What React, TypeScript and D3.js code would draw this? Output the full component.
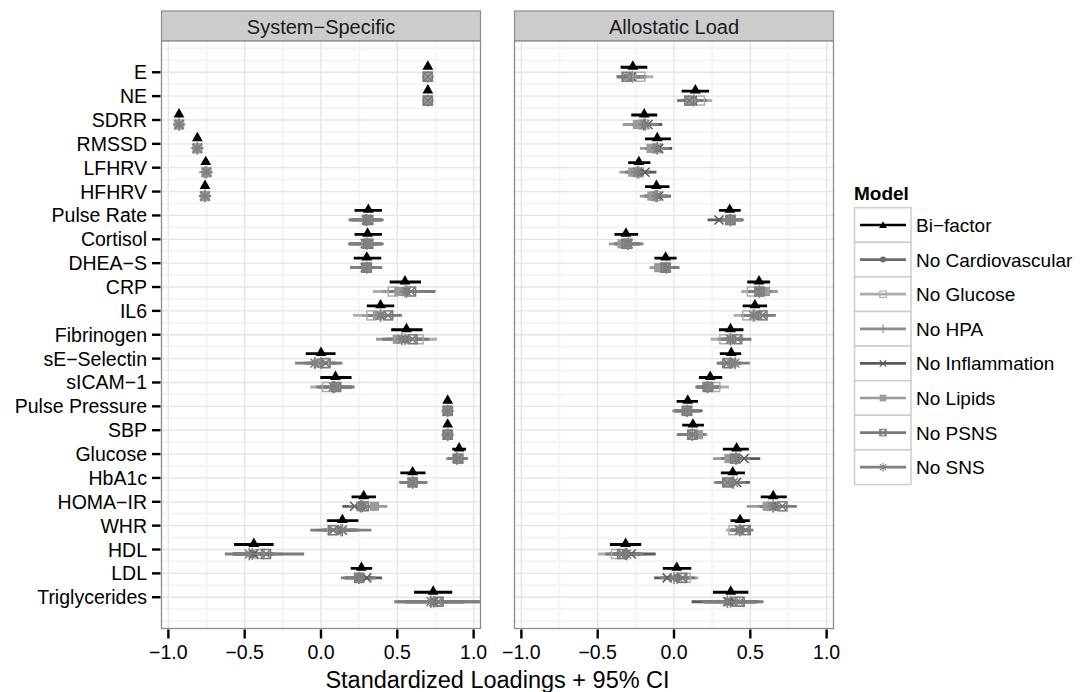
import React from "react";
import * as d3 from "d3";

type Est = [number, number, number] | null;

const categories = ["E", "NE", "SDRR", "RMSSD", "LFHRV", "HFHRV", "Pulse Rate", "Cortisol", "DHEA\u2212S", "CRP", "IL6", "Fibrinogen", "sE\u2212Selectin", "sICAM\u22121", "Pulse Pressure", "SBP", "Glucose", "HbA1c", "HOMA\u2212IR", "WHR", "HDL", "LDL", "Triglycerides"];
const models = ["Bi\u2212factor", "No Cardiovascular", "No Glucose", "No HPA", "No Inflammation", "No Lipids", "No PSNS", "No SNS"];
const modelColors = ["#000000", "#6b6b6b", "#adadad", "#8c8c8c", "#595959", "#9a9a9a", "#7a7a7a", "#7f7f7f"];
const modelShapes = ["triangle", "circle", "openSquare", "plus", "cross", "filledSquare", "squareX", "asterisk"];
const panelTitles = ["System\u2212Specific", "Allostatic Load"];
const xTicks = [-1, -0.5, 0, 0.5, 1];
const xMinor = [-0.75, -0.25, 0.25, 0.75];
const xTitle = "Standardized Loadings + 95% CI";
const legendTitle = "Model";

// System-Specific panel: [estimate, lower, upper]
const ssBifactor: Est[] = [
  [0.70, 0.68, 0.72], [0.70, 0.68, 0.72], [-0.93, -0.95, -0.91], [-0.81, -0.83, -0.79], [-0.755, -0.775, -0.735], [-0.76, -0.78, -0.74],
  [0.31, 0.22, 0.40], [0.305, 0.22, 0.40], [0.30, 0.215, 0.395], [0.55, 0.45, 0.655], [0.39, 0.30, 0.48], [0.56, 0.46, 0.665],
  [0.0, -0.10, 0.095], [0.095, -0.005, 0.20], [0.83, 0.81, 0.85], [0.83, 0.81, 0.85], [0.905, 0.86, 0.95], [0.60, 0.52, 0.685],
  [0.28, 0.20, 0.36], [0.14, 0.04, 0.245], [-0.44, -0.57, -0.31], [0.265, 0.195, 0.335], [0.735, 0.61, 0.86]];
const ssNoCardio: Est[] = [
  [0.70, 0.68, 0.72], [0.70, 0.68, 0.72], [-0.93, -0.95, -0.91], [-0.81, -0.83, -0.79], [-0.75, -0.77, -0.73], [-0.76, -0.78, -0.74],
  null, [0.30, 0.19, 0.40], [0.30, 0.20, 0.40], [0.55, 0.44, 0.66], [0.39, 0.29, 0.48], [0.55, 0.43, 0.66],
  [0.0, -0.10, 0.10], [0.09, -0.01, 0.20], null, null, [0.89, 0.84, 0.95], [0.60, 0.52, 0.69],
  [0.27, 0.19, 0.35], [0.12, 0.01, 0.23], [-0.45, -0.58, -0.32], [0.25, 0.16, 0.34], [0.74, 0.55, 0.93]];
const ssNoGlucose: Est[] = [
  [0.70, 0.68, 0.72], [0.70, 0.68, 0.72], [-0.93, -0.95, -0.91], [-0.81, -0.83, -0.79], [-0.75, -0.77, -0.73], [-0.76, -0.78, -0.74],
  [0.30, 0.20, 0.40], [0.30, 0.20, 0.40], [0.30, 0.20, 0.40], [0.47, 0.34, 0.60], [0.33, 0.21, 0.44], [0.64, 0.53, 0.76],
  [0.02, -0.08, 0.12], [0.04, -0.07, 0.15], [0.83, 0.81, 0.85], [0.83, 0.81, 0.85], null, null,
  null, [0.075, -0.03, 0.18], [-0.40, -0.55, -0.25], [0.25, 0.16, 0.34], [0.75, 0.58, 0.95]];
const ssNoHPA: Est[] = [
  [0.70, 0.68, 0.72], [0.70, 0.68, 0.72], [-0.93, -0.95, -0.91], [-0.81, -0.83, -0.79], [-0.76, -0.78, -0.74], [-0.76, -0.78, -0.74],
  [0.29, 0.19, 0.39], null, null, [0.55, 0.44, 0.66], [0.39, 0.29, 0.48], [0.55, 0.43, 0.66],
  [0.0, -0.10, 0.10], [0.09, -0.01, 0.20], [0.83, 0.81, 0.85], [0.83, 0.81, 0.85], [0.89, 0.84, 0.95], [0.60, 0.52, 0.69],
  [0.27, 0.19, 0.35], [0.13, 0.02, 0.24], [-0.45, -0.58, -0.32], [0.25, 0.16, 0.34], [0.74, 0.55, 0.93]];
const ssNoInflam: Est[] = [
  [0.70, 0.68, 0.72], [0.70, 0.68, 0.72], [-0.93, -0.95, -0.91], [-0.81, -0.83, -0.79], [-0.75, -0.77, -0.73], [-0.76, -0.78, -0.74],
  [0.30, 0.20, 0.40], [0.29, 0.18, 0.39], [0.29, 0.19, 0.39], null, null, null,
  null, null, [0.83, 0.81, 0.85], [0.83, 0.81, 0.85], [0.90, 0.85, 0.96], [0.60, 0.52, 0.69],
  [0.22, 0.14, 0.30], [0.14, 0.03, 0.25], [-0.44, -0.57, -0.31], [0.30, 0.20, 0.40], [0.74, 0.55, 0.94]];
const ssNoLipids: Est[] = [
  [0.70, 0.68, 0.72], [0.70, 0.68, 0.72], [-0.93, -0.95, -0.91], [-0.81, -0.83, -0.79], [-0.75, -0.77, -0.73], [-0.76, -0.78, -0.74],
  [0.30, 0.20, 0.40], [0.30, 0.20, 0.40], [0.30, 0.20, 0.40], [0.51, 0.40, 0.62], [0.37, 0.27, 0.47], [0.50, 0.36, 0.63],
  [-0.02, -0.12, 0.08], [0.10, 0.00, 0.21], [0.83, 0.81, 0.85], [0.83, 0.81, 0.85], [0.89, 0.82, 0.96], [0.60, 0.51, 0.70],
  [0.35, 0.27, 0.435], null, null, null, null];
const ssNoPSNS: Est[] = [
  [0.70, 0.68, 0.72], [0.70, 0.68, 0.72], null, null, null, null,
  [0.31, 0.21, 0.41], [0.31, 0.21, 0.41], [0.30, 0.20, 0.40], [0.59, 0.44, 0.75], [0.44, 0.34, 0.53], [0.60, 0.48, 0.71],
  [0.03, -0.07, 0.14], [0.10, 0.00, 0.22], [0.83, 0.81, 0.85], [0.83, 0.81, 0.85], [0.90, 0.84, 0.96], [0.60, 0.52, 0.69],
  [0.28, 0.20, 0.36], [0.08, -0.07, 0.22], [-0.36, -0.55, -0.11], [0.25, 0.15, 0.35], [0.77, 0.50, 1.10]];
const ssNoSNS: Est[] = [
  null, null, [-0.93, -0.95, -0.91], [-0.81, -0.83, -0.79], [-0.75, -0.77, -0.73], [-0.76, -0.78, -0.74],
  [0.30, 0.18, 0.40], [0.30, 0.19, 0.40], [0.30, 0.19, 0.40], [0.56, 0.44, 0.68], [0.39, 0.30, 0.49], [0.53, 0.40, 0.65],
  [-0.04, -0.17, 0.07], [0.08, -0.03, 0.19], [0.83, 0.81, 0.85], [0.83, 0.81, 0.85], [0.89, 0.83, 0.95], [0.60, 0.52, 0.69],
  [0.26, 0.18, 0.34], [0.14, 0.00, 0.33], [-0.47, -0.63, -0.30], [0.25, 0.13, 0.36], [0.72, 0.48, 1.08]];

// Allostatic Load panel
const alBifactor: Est[] = [
  [-0.27, -0.35, -0.175], [0.14, 0.05, 0.23], [-0.195, -0.28, -0.11], [-0.11, -0.19, -0.02], [-0.23, -0.30, -0.155], [-0.115, -0.19, -0.03],
  [0.365, 0.295, 0.437], [-0.315, -0.39, -0.235], [-0.055, -0.128, 0.017], [0.557, 0.48, 0.63], [0.53, 0.45, 0.61], [0.37, 0.295, 0.455],
  [0.375, 0.30, 0.44], [0.237, 0.163, 0.316], [0.09, 0.017, 0.157], [0.124, 0.054, 0.196], [0.41, 0.32, 0.49], [0.385, 0.307, 0.465],
  [0.65, 0.568, 0.739], [0.433, 0.37, 0.497], [-0.317, -0.42, -0.215], [0.018, -0.073, 0.113], [0.372, 0.255, 0.487]];
const alNoCardio: Est[] = [
  [-0.27, -0.35, -0.18], [0.13, 0.04, 0.22], [-0.20, -0.28, -0.11], [-0.11, -0.19, -0.03], [-0.23, -0.31, -0.15], [-0.12, -0.20, -0.04],
  null, [-0.31, -0.39, -0.23], [-0.06, -0.13, 0.02], [0.56, 0.48, 0.63], [0.53, 0.45, 0.61], [0.37, 0.29, 0.45],
  [0.37, 0.30, 0.44], [0.22, 0.15, 0.30], null, null, [0.41, 0.32, 0.50], [0.38, 0.30, 0.46],
  [0.65, 0.57, 0.74], [0.43, 0.37, 0.50], [-0.32, -0.42, -0.22], [0.02, -0.07, 0.11], [0.37, 0.20, 0.53]];
const alNoGlucose: Est[] = [
  [-0.22, -0.30, -0.136], [0.17, 0.08, 0.25], [-0.20, -0.28, -0.11], [-0.11, -0.19, -0.03], [-0.23, -0.31, -0.15], [-0.12, -0.20, -0.04],
  [0.37, 0.29, 0.45], [-0.31, -0.39, -0.23], [-0.06, -0.13, 0.02], [0.51, 0.44, 0.59], [0.48, 0.39, 0.56], [0.33, 0.24, 0.41],
  [0.35, 0.28, 0.42], [0.27, 0.19, 0.36], [0.085, 0.0, 0.17], [0.12, 0.04, 0.20], null, null,
  null, [0.39, 0.34, 0.45], [-0.38, -0.497, -0.27], [0.076, -0.01, 0.16], [0.40, 0.24, 0.56]];
const alNoHPA: Est[] = [
  [-0.27, -0.35, -0.18], [0.13, 0.04, 0.22], [-0.20, -0.28, -0.11], [-0.11, -0.19, -0.03], [-0.23, -0.31, -0.15], [-0.12, -0.20, -0.04],
  [0.37, 0.29, 0.45], null, null, [0.56, 0.48, 0.63], [0.53, 0.45, 0.61], [0.37, 0.29, 0.45],
  [0.37, 0.30, 0.44], [0.22, 0.15, 0.30], [0.085, 0.0, 0.17], [0.12, 0.04, 0.20], [0.41, 0.32, 0.50], [0.38, 0.30, 0.46],
  [0.65, 0.57, 0.74], [0.43, 0.37, 0.50], [-0.32, -0.42, -0.22], [0.02, -0.07, 0.11], [0.37, 0.20, 0.53]];
const alNoInflam: Est[] = [
  [-0.28, -0.36, -0.19], [0.12, 0.03, 0.21], [-0.17, -0.25, -0.077], [-0.10, -0.18, -0.012], [-0.19, -0.27, -0.115], [-0.10, -0.18, -0.02],
  [0.295, 0.22, 0.37], [-0.30, -0.38, -0.22], [-0.05, -0.12, 0.03], null, null, null,
  null, null, [0.09, 0.01, 0.186], [0.12, 0.03, 0.21], [0.46, 0.36, 0.565], [0.41, 0.33, 0.497],
  [0.64, 0.56, 0.73], [0.43, 0.37, 0.50], [-0.28, -0.39, -0.12], [-0.045, -0.13, 0.04], [0.36, 0.115, 0.55]];
const alNoLipids: Est[] = [
  [-0.29, -0.37, -0.20], [0.11, 0.02, 0.20], [-0.24, -0.336, -0.15], [-0.15, -0.224, -0.07], [-0.27, -0.357, -0.19], [-0.145, -0.224, -0.07],
  [0.37, 0.29, 0.46], [-0.34, -0.427, -0.26], [-0.10, -0.16, -0.03], [0.60, 0.52, 0.68], [0.55, 0.47, 0.63], [0.38, 0.30, 0.46],
  [0.38, 0.31, 0.45], [0.23, 0.15, 0.31], [0.08, -0.012, 0.16], [0.16, 0.08, 0.218], [0.36, 0.255, 0.45], [0.345, 0.26, 0.43],
  [0.61, 0.476, 0.70], null, null, null, null];
const alNoPSNS: Est[] = [
  [-0.31, -0.377, -0.22], [0.10, 0.02, 0.19], null, null, null, null,
  [0.37, 0.29, 0.45], [-0.31, -0.39, -0.22], [-0.055, -0.13, 0.036], [0.56, 0.48, 0.64], [0.58, 0.50, 0.667], [0.415, 0.33, 0.507],
  [0.35, 0.28, 0.43], [0.22, 0.14, 0.30], [0.085, 0.0, 0.17], [0.12, 0.017, 0.20], [0.40, 0.31, 0.49], [0.35, 0.27, 0.43],
  [0.71, 0.62, 0.805], [0.47, 0.41, 0.52], [-0.34, -0.45, -0.23], [0.054, -0.04, 0.14], [0.43, 0.25, 0.586]];
const alNoSNS: Est[] = [
  null, null, [-0.19, -0.27, -0.10], [-0.11, -0.19, -0.03], [-0.24, -0.32, -0.16], [-0.11, -0.19, -0.03],
  [0.37, 0.29, 0.45], [-0.30, -0.38, -0.20], [-0.05, -0.12, 0.03], [0.557, 0.48, 0.63], [0.52, 0.44, 0.60], [0.37, 0.29, 0.45],
  [0.40, 0.32, 0.497], [0.22, 0.15, 0.30], [0.085, 0.0, 0.17], [0.12, 0.04, 0.20], [0.405, 0.31, 0.50], [0.39, 0.31, 0.47],
  [0.65, 0.56, 0.74], [0.43, 0.37, 0.50], [-0.31, -0.42, -0.20], [0.0, -0.09, 0.09], [0.35, 0.18, 0.52]];

const panelData: Est[][][] = [
  [ssBifactor, ssNoCardio, ssNoGlucose, ssNoHPA, ssNoInflam, ssNoLipids, ssNoPSNS, ssNoSNS],
  [alBifactor, alNoCardio, alNoGlucose, alNoHPA, alNoInflam, alNoLipids, alNoPSNS, alNoSNS],
];

const FONT = "'Liberation Sans', Arial, Helvetica, sans-serif";
const W = 1081, H = 692;
const panelX: [number, number][] = [[161.5, 480.5], [514.5, 833.5]];
const panelTop = 41, panelBottom = 628.5, stripTop = 11;

function Marker({ shape, x, y, color, s = 1 }: { shape: string; x: number; y: number; color: string; s?: number }) {
  const sw = 1.5 * s;
  if (shape === "triangle") {
    const w = 5.4 * s;
    return <path d={`M${x},${y - 7 * s}L${x + w},${y + 2.4 * s}L${x - w},${y + 2.4 * s}Z`} fill={color} />;
  }
  if (shape === "circle") return <circle cx={x} cy={y} r={4.2 * s} fill={color} />;
  if (shape === "openSquare") {
    const h = 4.5 * s;
    return <rect x={x - h} y={y - h} width={2 * h} height={2 * h} fill="none" stroke={color} strokeWidth={sw} />;
  }
  if (shape === "filledSquare") {
    const h = 4.6 * s;
    return <rect x={x - h} y={y - h} width={2 * h} height={2 * h} fill={color} />;
  }
  if (shape === "plus") {
    const h = 6 * s;
    return <path d={`M${x - h},${y}H${x + h}M${x},${y - h}V${y + h}`} stroke={color} strokeWidth={sw} fill="none" />;
  }
  if (shape === "cross") {
    const h = 4.5 * s;
    return <path d={`M${x - h},${y - h}L${x + h},${y + h}M${x - h},${y + h}L${x + h},${y - h}`} stroke={color} strokeWidth={sw} fill="none" />;
  }
  if (shape === "squareX") {
    const h = 4.5 * s;
    return (
      <g stroke={color} strokeWidth={sw} fill="none">
        <rect x={x - h} y={y - h} width={2 * h} height={2 * h} />
        <path d={`M${x - h},${y - h}L${x + h},${y + h}M${x - h},${y + h}L${x + h},${y - h}`} />
      </g>
    );
  }
  // asterisk
  const h = 6.2 * s, d = 4.4 * s;
  return (
    <path
      d={`M${x - h},${y}H${x + h}M${x},${y - h}V${y + h}M${x - d},${y - d}L${x + d},${y + d}M${x - d},${y + d}L${x + d},${y - d}`}
      stroke={color} strokeWidth={sw} fill="none" />
  );
}

export default function App() {
  const yScale = d3.scalePoint<string>().domain(categories).range([panelTop, panelBottom]).padding(1.31);
  const step = yScale.step();
  const offBi = -5, offOther = 4.5;

  const minorY: number[] = [];
  for (let k = -2; k <= 46; k++) {
    const v = k / 2;
    const isMajor = Number.isInteger(v) && v >= 0 && v <= 22;
    if (isMajor) continue;
    const y = (yScale(categories[0]) as number) + v * step;
    if (y > panelTop + 1 && y < panelBottom - 1) minorY.push(y);
  }

  return (
    <svg width={W} height={H} style={{ position: "absolute", left: 0, top: 0, background: "#fff" }} fontFamily={FONT}>
      <defs>
        {panelX.map((p, i) => (
          <clipPath id={`clip${i}`} key={i}>
            <rect x={p[0]} y={panelTop} width={p[1] - p[0]} height={panelBottom - panelTop} />
          </clipPath>
        ))}
      </defs>
      {panelX.map((p, pi) => {
        const x = d3.scaleLinear().domain([-1.045, 1.045]).range(p);
        const data = panelData[pi];
        return (
          <g key={pi}>
            <rect x={p[0]} y={stripTop} width={p[1] - p[0]} height={panelTop - stripTop} fill="#cccccc" stroke="#8c8c8c" strokeWidth={1.2} />
            <text x={(p[0] + p[1]) / 2} y={33.5} textAnchor="middle" fontSize={20} fill="#1a1a1a">{panelTitles[pi]}</text>
            <rect x={p[0]} y={panelTop} width={p[1] - p[0]} height={panelBottom - panelTop} fill="#ffffff" />
            <g clipPath={`url(#clip${pi})`}>
              {minorY.map((y, i) => (
                <line key={`my${i}`} x1={p[0]} x2={p[1]} y1={y} y2={y} stroke="#f5f5f5" strokeWidth={2.2} />
              ))}
              {xMinor.map((v) => (
                <line key={`mx${v}`} x1={x(v)} x2={x(v)} y1={panelTop} y2={panelBottom} stroke="#f5f5f5" strokeWidth={2.2} />
              ))}
              {categories.map((c) => (
                <line key={`gy${c}`} x1={p[0]} x2={p[1]} y1={yScale(c)} y2={yScale(c)} stroke="#e4e4e4" strokeWidth={1.3} />
              ))}
              {xTicks.map((v) => (
                <line key={`gx${v}`} x1={x(v)} x2={x(v)} y1={panelTop} y2={panelBottom} stroke="#e4e4e4" strokeWidth={1.3} />
              ))}
              {data.map((series, mi) =>
                series.map((e, ci) => {
                  if (!e) return null;
                  const y = (yScale(categories[ci]) as number) + (mi === 0 ? offBi : offOther);
                  return <line key={`eb${mi}-${ci}`} x1={x(e[1])} x2={x(e[2])} y1={y} y2={y} stroke={modelColors[mi]} strokeWidth={2.8} />;
                })
              )}
              {data.map((series, mi) =>
                series.map((e, ci) => {
                  if (!e) return null;
                  const y = (yScale(categories[ci]) as number) + (mi === 0 ? offBi : offOther);
                  return <Marker key={`pt${mi}-${ci}`} shape={modelShapes[mi]} x={x(e[0])} y={y} color={modelColors[mi]} />;
                })
              )}
            </g>
            <rect x={p[0]} y={panelTop} width={p[1] - p[0]} height={panelBottom - panelTop} fill="none" stroke="#8c8c8c" strokeWidth={1.3} />
            {xTicks.map((v) => (
              <g key={`xt${v}`}>
                <line x1={x(v)} x2={x(v)} y1={panelBottom + 1} y2={panelBottom + 10} stroke="#000" strokeWidth={2.4} />
                <text x={x(v)} y={659} textAnchor="middle" fontSize={19.5} fill="#000">
                  {v < 0 ? "\u2212" + Math.abs(v).toFixed(1) : v.toFixed(1)}
                </text>
              </g>
            ))}
          </g>
        );
      })}
      {categories.map((c) => {
        const y = yScale(c) as number;
        return (
          <g key={`yl${c}`}>
            <line x1={152} x2={160.5} y1={y} y2={y} stroke="#000" strokeWidth={2.4} />
            <text x={147} y={y + 7} textAnchor="end" fontSize={19.5} fill="#000">{c}</text>
          </g>
        );
      })}
      <text x={(panelX[0][0] + panelX[1][1]) / 2} y={688} textAnchor="middle" fontSize={23.5} fill="#000">{xTitle}</text>
      <text x={854} y={199.5} fontSize={19} fontWeight="bold" fill="#000">{legendTitle}</text>
      {models.map((m, i) => {
        const top = 207.7 + i * 34.6;
        const cy = top + 17.3;
        return (
          <g key={`lg${m}`}>
            <rect x={854.5} y={top} width={56.5} height={34.6} fill="#fff" stroke="#cccccc" strokeWidth={1.5} />
            <line x1={860} x2={906} y1={cy} y2={cy} stroke={modelColors[i]} strokeWidth={2.7} />
            <Marker shape={modelShapes[i]} x={883} y={cy + (i === 0 ? 1.2 : 0)} color={modelColors[i]} s={0.72} />
            <text x={916} y={cy + 7} fontSize={19} fill="#000">{m}</text>
          </g>
        );
      })}
    </svg>
  );
}
